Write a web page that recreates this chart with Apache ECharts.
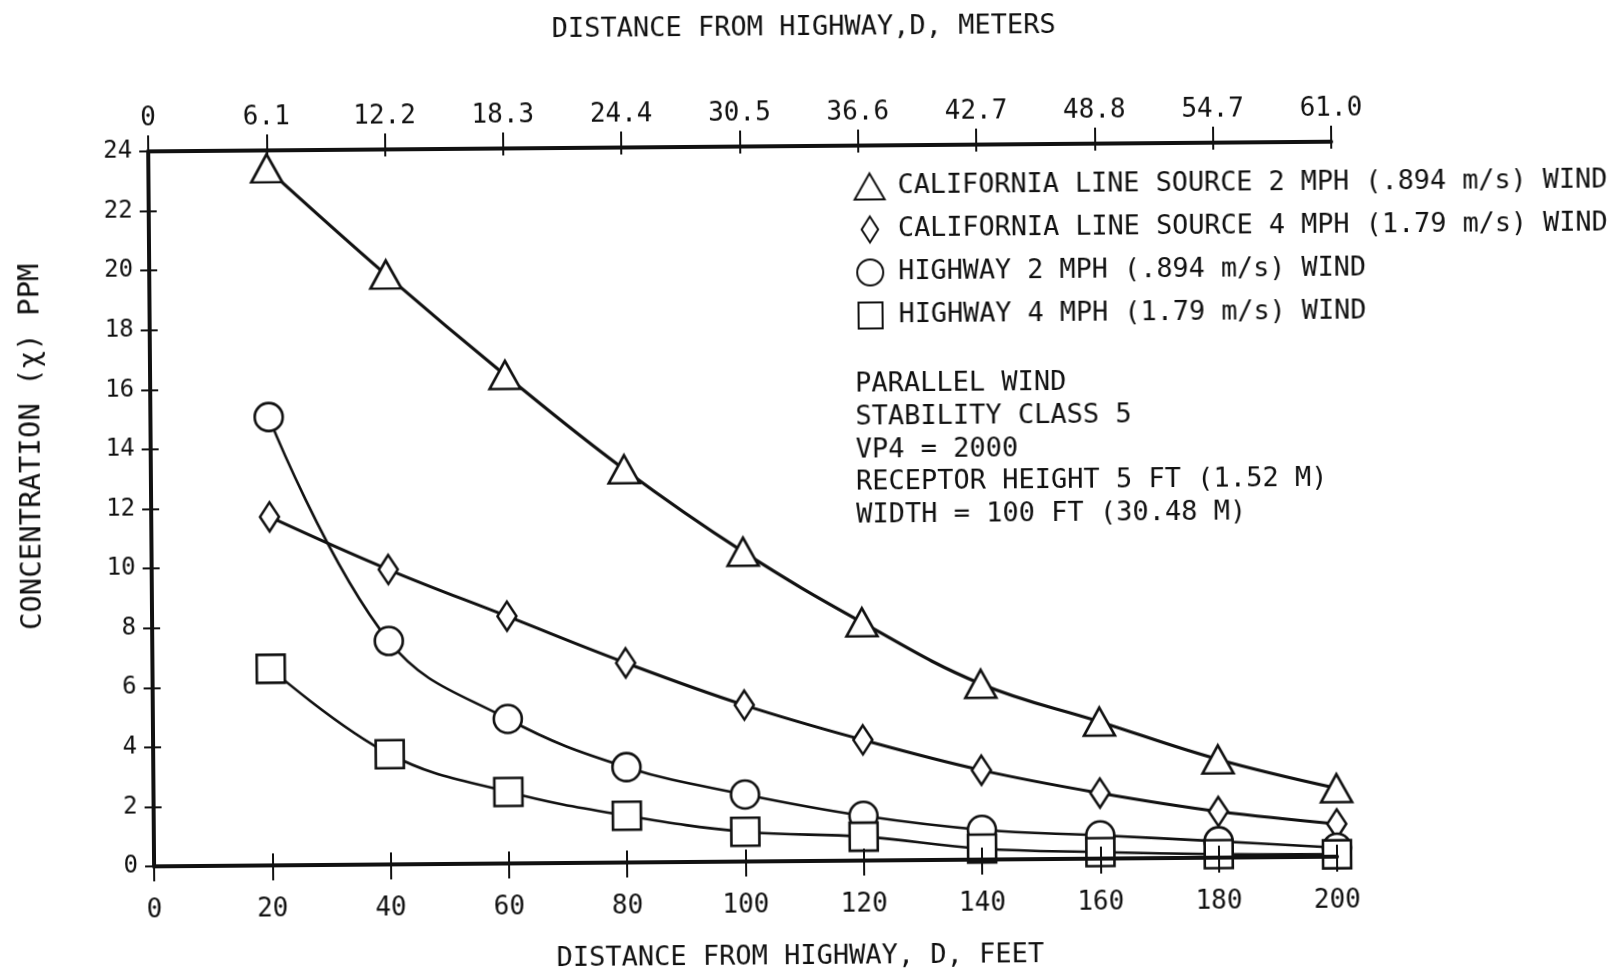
<!DOCTYPE html>
<html>
<head>
<meta charset="utf-8">
<style>
  html, body { margin: 0; padding: 0; background: #fff; overflow: hidden; }
  /* the sheet sits slightly askew on the page */
  #chart { width: 1616px; height: 975px; transform: rotate(-0.47deg); transform-origin: 50% 50%; }
</style>
<script src="https://cdn.jsdelivr.net/npm/echarts@6/dist/echarts.min.js"></script>
</head>
<body>
<div id="chart"></div>
<script>
// Distance from the highway edge (feet)
const distanceFt = [20, 40, 60, 80, 100, 120, 140, 160, 180, 200];

// Concentration, ppm
const californiaWind2 = [23.4, 19.8, 16.4, 13.2, 10.4, 8.0, 5.9, 4.6, 3.3, 2.3];
const californiaWind4 = [11.7, 9.9, 8.3, 6.7, 5.25, 4.05, 3.0, 2.2, 1.55, 1.1];
const highwayWind2 = [15.05, 7.5, 4.85, 3.2, 2.25, 1.5, 1.0, 0.78, 0.55, 0.3];
const highwayWind4 = [6.6, 3.7, 2.4, 1.57, 1.0, 0.8, 0.37, 0.22, 0.12, 0.08];

// Metre equivalents printed along the top edge (one per 20 ft tick)
const meterLabels = ['0', '6.1', '12.2', '18.3', '24.4', '30.5', '36.6', '42.7', '48.8', '54.7', '61.0'];

const seriesNames = [
  'CALIFORNIA LINE SOURCE 2 MPH (.894 m/s) WIND',
  'CALIFORNIA LINE SOURCE 4 MPH (1.79 m/s) WIND',
  'HIGHWAY 2 MPH (.894 m/s) WIND',
  'HIGHWAY 4 MPH (1.79 m/s) WIND'
];

const runNotes = [
  'PARALLEL WIND',
  'STABILITY CLASS 5',
  'VP4 = 2000',
  'RECEPTOR HEIGHT 5 FT (1.52 M)',
  'WIDTH = 100 FT (30.48 M)'
];

const ink = '#111';
const mono = '"DejaVu Sans Mono", "Liberation Mono", monospace';
const diamondIcon = 'path://M7,0 L14,11 L7,22 L0,11 Z';
const squareIcon = 'path://M0,0 L24,0 L24,26 L0,26 Z';

function curve(name, values, symbol, size, width) {
  return {
    type: 'line',
    name: name,
    xAxisIndex: 0,
    yAxisIndex: 0,
    data: distanceFt.map((d, i) => [d, values[i]]),
    smooth: 0.4,
    symbol: symbol,
    symbolSize: size,
    showSymbol: true,
    lineStyle: { color: ink, width: width },
    itemStyle: { color: '#fff', borderColor: ink, borderWidth: 2.6 },
    emphasis: { disabled: true },
    z: 2
  };
}

const feetAxisBase = {
  type: 'value', min: 0, max: 200, interval: 20,
  splitLine: { show: false }
};
const ppmAxisBase = {
  type: 'value', min: 0, max: 24, interval: 2,
  splitLine: { show: false }
};

const chart = echarts.init(document.getElementById('chart'), null, { renderer: 'canvas' });

chart.setOption({
  animation: false,
  backgroundColor: '#fff',
  grid: { left: 151, right: 282, top: 146, bottom: 108 },
  legend: {
    orient: 'vertical',
    left: 851,
    top: 168,
    itemWidth: 30,
    itemHeight: 26,
    itemGap: 15,
    selectedMode: false,
    textStyle: { fontFamily: mono, fontSize: 26.8, color: ink, padding: [0, 0, 0, 8] },
    data: [
      { name: seriesNames[0], icon: 'triangle' },
      { name: seriesNames[1], icon: diamondIcon },
      { name: seriesNames[2], icon: 'circle' },
      { name: seriesNames[3], icon: squareIcon }
    ]
  },
  xAxis: [
    Object.assign({}, feetAxisBase, {
      position: 'bottom',
      z: 3,
      axisLine: { lineStyle: { color: ink, width: 4 } },
      axisTick: { length: 15, lineStyle: { color: ink, width: 2 } },
      axisLabel: { margin: 31, fontFamily: mono, fontSize: 26, color: ink },
      name: 'DISTANCE FROM HIGHWAY, D, FEET',
      nameLocation: 'middle',
      nameGap: 82,
      nameTextStyle: { fontFamily: mono, fontSize: 27, color: ink, padding: [0, 0, 0, 108] }
    }),
    Object.assign({}, feetAxisBase, {
      position: 'bottom',
      z: 3,
      axisLine: { show: false },
      axisTick: { inside: true, length: 12, lineStyle: { color: ink, width: 2 } },
      axisLabel: { show: false }
    }),
    Object.assign({}, feetAxisBase, {
      position: 'top',
      axisLine: { lineStyle: { color: ink, width: 4 } },
      axisTick: { length: 16, lineStyle: { color: ink, width: 2 } },
      axisLabel: {
        margin: 20, fontFamily: mono, fontSize: 26, color: ink,
        formatter: (v) => meterLabels[Math.round(v / 20)]
      },
      name: 'DISTANCE FROM HIGHWAY,D, METERS',
      nameLocation: 'middle',
      nameGap: 105,
      nameTextStyle: { fontFamily: mono, fontSize: 27, color: ink, padding: [0, 0, 0, 130] }
    }),
    Object.assign({}, feetAxisBase, {
      position: 'top',
      axisLine: { show: false },
      axisTick: { inside: true, length: 7, lineStyle: { color: ink, width: 2 } },
      axisLabel: { show: false }
    })
  ],
  yAxis: [
    Object.assign({}, ppmAxisBase, {
      position: 'left',
      axisLine: { lineStyle: { color: ink, width: 4 } },
      axisTick: { length: 9, lineStyle: { color: ink, width: 2 } },
      axisLabel: { margin: 16, fontFamily: mono, fontSize: 24, color: ink },
      name: 'CONCENTRATION (χ) PPM',
      nameLocation: 'middle',
      nameRotate: 90,
      nameGap: 104,
      nameTextStyle: { fontFamily: mono, fontSize: 29, color: ink, padding: [0, 0, 0, 126] }
    }),
    Object.assign({}, ppmAxisBase, {
      position: 'left',
      axisLine: { show: false },
      axisTick: { inside: true, length: 8, lineStyle: { color: ink, width: 2 } },
      axisLabel: { show: false }
    })
  ],
  graphic: [
    {
      type: 'text',
      left: 856,
      top: 369,
      style: {
        text: runNotes.join('\n'),
        font: '27px ' + mono,
        lineHeight: 32.7,
        fill: ink
      }
    }
  ],
  series: [
    curve(seriesNames[0], californiaWind2, 'triangle', [31, 28], 3.2),
    curve(seriesNames[1], californiaWind4, 'diamond', [19, 29], 3),
    curve(seriesNames[2], highwayWind2, 'circle', 28, 2.6),
    curve(seriesNames[3], highwayWind4, 'rect', [28, 28], 2.6)
  ]
});
</script>
</body>
</html>
